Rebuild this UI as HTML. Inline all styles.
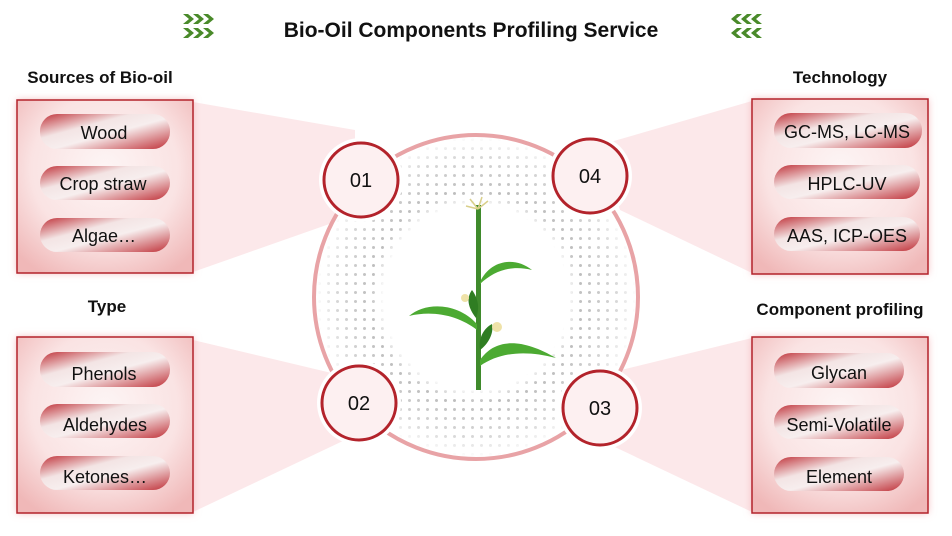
<!DOCTYPE html>
<html><head><meta charset="utf-8"><style>
body{margin:0;background:#fff;width:952px;height:531px;overflow:hidden;font-family:"Liberation Sans",sans-serif}
</style></head><body>
<svg width="952" height="531" viewBox="0 0 952 531" xmlns="http://www.w3.org/2000/svg" font-family="'Liberation Sans', sans-serif">
<defs>
<radialGradient id="box" cx="50%" cy="40%" r="70%">
<stop offset="0" stop-color="#fdf5f5"/><stop offset="0.6" stop-color="#fae3e3"/><stop offset="1" stop-color="#f0b8b8"/></radialGradient>
<linearGradient id="pill" x1="0" y1="0" x2="1" y2="1">
<stop offset="0" stop-color="#c0333a"/><stop offset="0.35" stop-color="#f3e4e4"/><stop offset="0.55" stop-color="#f7eeee"/><stop offset="1" stop-color="#c0333a"/></linearGradient>
<pattern id="dots" width="9" height="9" patternUnits="userSpaceOnUse"><circle cx="4.5" cy="4.5" r="1.5" fill="#bdbdbd"/></pattern>
<radialGradient id="ringmask"><stop offset="0.56" stop-color="#000"/><stop offset="0.64" stop-color="#fff"/><stop offset="0.85" stop-color="#999"/><stop offset="0.97" stop-color="#000"/></radialGradient>
<mask id="m"><circle cx="476" cy="297" r="165" fill="url(#ringmask)"/></mask>
<filter id="glow" x="-20%" y="-20%" width="140%" height="140%"><feGaussianBlur stdDeviation="4"/></filter>
</defs>
<text x="471" y="37" text-anchor="middle" font-size="21" font-weight="bold" fill="#111">Bio-Oil Components Profiling Service</text>
<g fill="#4a8a2a"><path d="M183 14l6 5-6 5h5l6-5-6-5zM193 14l6 5-6 5h5l6-5-6-5zM203 14l6 5-6 5h5l6-5-6-5z"/>
<path d="M183 28l6 5-6 5h5l6-5-6-5zM193 28l6 5-6 5h5l6-5-6-5zM203 28l6 5-6 5h5l6-5-6-5z"/>
<path d="M762 14l-6 5 6 5h-5l-6-5 6-5zM752 14l-6 5 6 5h-5l-6-5 6-5zM742 14l-6 5 6 5h-5l-6-5 6-5z"/>
<path d="M762 28l-6 5 6 5h-5l-6-5 6-5zM752 28l-6 5 6 5h-5l-6-5 6-5zM742 28l-6 5 6 5h-5l-6-5 6-5z"/></g>
<g fill="#fce6e8" opacity="0.9">
<polygon points="193,102 355,130 355,215 193,272"/>
<polygon points="193,340 340,375 345,440 193,512"/>
<polygon points="752,101 600,145 620,210 752,273"/>
<polygon points="752,338 580,380 600,440 752,512"/>
</g>
<circle cx="476" cy="297" r="162" fill="#fff"/>
<circle cx="476" cy="297" r="160" fill="url(#dots)" mask="url(#m)"/>
<circle cx="476" cy="297" r="162" fill="none" stroke="#e8a3a6" stroke-width="4"/>
<g>
<rect x="476" y="205" width="5" height="185" fill="#3f8a2c"/>
<path d="M478 209l-8-10M478 209l4-12M478 209l10-8M478 209l-12-3" stroke="#d9cf8a" stroke-width="1.5" fill="none"/>
<path d="M480 282c10-22 35-26 52-12c-20-5-37 0-52 14z" fill="#4caa32"/>
<path d="M477 324c-20-22-52-22-68-8c25-6 50 0 68 14z" fill="#4caa32"/>
<path d="M480 360c15-22 42-22 76-2c-30-8-56-6-76 8z" fill="#4caa32"/>
<path d="M476 318c-8-10-10-20-4-28c6 8 8 18 4 28z" fill="#2f7d22"/>
<path d="M480 350c-2-12 4-22 12-26c2 10-4 20-12 26z" fill="#2f7d22"/>
<circle cx="465" cy="298" r="4" fill="#efe2a8"/><circle cx="497" cy="327" r="5" fill="#efe2a8"/>
</g>
<g fill="#fff"><circle cx="361" cy="180" r="42"/><circle cx="590" cy="176" r="42"/><circle cx="359" cy="403" r="42"/><circle cx="600" cy="408" r="42"/></g>
<g fill="#fdf0f1" stroke="#b3232b" stroke-width="3">
<circle cx="361" cy="180" r="37"/><circle cx="590" cy="176" r="37"/>
<circle cx="359" cy="403" r="37"/><circle cx="600" cy="408" r="37"/></g>
<g font-size="20" fill="#111" text-anchor="middle">
<text x="361" y="187">01</text><text x="590" y="183">04</text>
<text x="359" y="410">02</text><text x="600" y="415">03</text></g>
<g fill="#f3b6b9" filter="url(#glow)">
<rect x="17" y="100" width="176" height="173"/><rect x="17" y="337" width="176" height="176"/>
<rect x="752" y="99" width="176" height="175"/><rect x="752" y="337" width="176" height="176"/>
</g>
<g>
<rect x="17" y="100" width="176" height="173" fill="url(#box)" stroke="#b3232b" stroke-width="1.5"/>
<rect x="17" y="337" width="176" height="176" fill="url(#box)" stroke="#b3232b" stroke-width="1.5"/>
<rect x="752" y="99" width="176" height="175" fill="url(#box)" stroke="#b3232b" stroke-width="1.5"/>
<rect x="752" y="337" width="176" height="176" fill="url(#box)" stroke="#b3232b" stroke-width="1.5"/>
</g>
<g fill="url(#pill)">
<rect x="40" y="114" width="130" height="35" rx="17"/><rect x="40" y="166" width="130" height="34" rx="17"/><rect x="40" y="218" width="130" height="34" rx="17"/>
<rect x="40" y="352" width="130" height="35" rx="17"/><rect x="40" y="404" width="130" height="34" rx="17"/><rect x="40" y="456" width="130" height="34" rx="17"/>
<rect x="774" y="113" width="148" height="35" rx="17"/><rect x="774" y="165" width="146" height="34" rx="17"/><rect x="774" y="217" width="146" height="34" rx="17"/>
<rect x="774" y="353" width="130" height="35" rx="17"/><rect x="774" y="405" width="130" height="34" rx="17"/><rect x="774" y="457" width="130" height="34" rx="17"/>
</g>
<g font-size="18" fill="#111" text-anchor="middle">
<text x="104" y="139">Wood</text><text x="103" y="190">Crop straw</text><text x="104" y="242">Algae…</text>
<text x="104" y="380">Phenols</text><text x="105" y="431">Aldehydes</text><text x="105" y="483">Ketones…</text>
<text x="847" y="138">GC-MS, LC-MS</text><text x="847" y="190">HPLC-UV</text><text x="847" y="242">AAS, ICP-OES</text>
<text x="839" y="379">Glycan</text><text x="839" y="431">Semi-Volatile</text><text x="839" y="483">Element</text>
</g>
<g font-size="17" font-weight="bold" fill="#111" text-anchor="middle">
<text x="100" y="83">Sources of Bio-oil</text><text x="107" y="312">Type</text>
<text x="840" y="83">Technology</text><text x="840" y="315">Component profiling</text>
</g>
</svg>
</body></html>
